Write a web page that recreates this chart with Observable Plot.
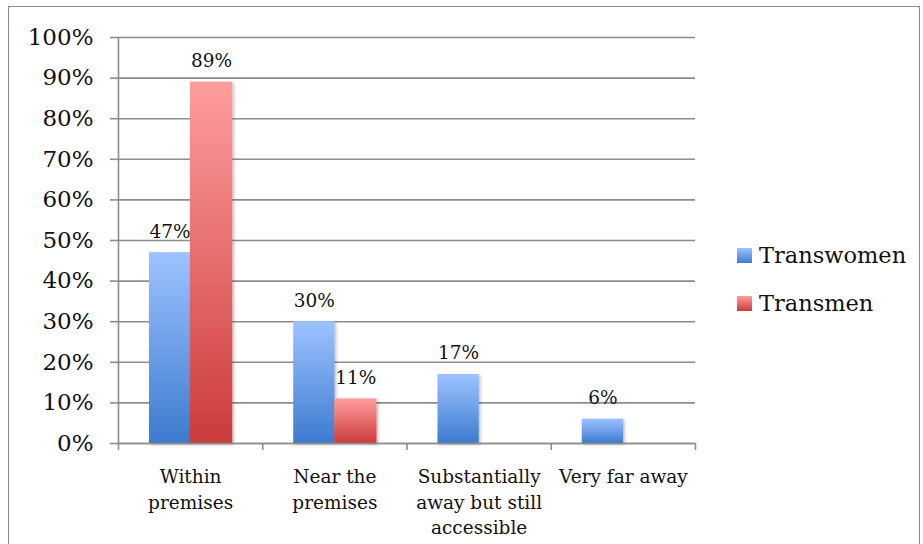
<!DOCTYPE html>
<html>
<head>
<meta charset="utf-8">
<script src="https://cdn.jsdelivr.net/npm/d3@7"></script>
<script src="https://cdn.jsdelivr.net/npm/@observablehq/plot@0.6"></script>
<style>
  html, body { margin: 0; padding: 0; background: #fff; }
  #wrap { position: relative; width: 923px; height: 544px; overflow: hidden; background: #fff; }
  #frame { position: absolute; left: 8px; top: 6px; width: 912px; height: 560px;
           border: 1.5px solid #8a8a8a; box-sizing: border-box; pointer-events: none; }
  #chart { position: absolute; left: 0; top: 0; }
  #legend { position: absolute; left: 737px; top: 240px; font-family: "DejaVu Serif", serif;
            font-size: 22.5px; color: #111; }
  .row { display: flex; align-items: center; height: 30px; margin-bottom: 18px; }
  .sw { width: 15px; height: 15px; margin-right: 7px; }
</style>
</head>
<body>
<div id="wrap">
  <div id="chart"></div>
  <div id="frame"></div>
  <div id="legend"></div>
</div>
<script>
// Where the facility is located, share of respondents by group
const categories = ["Within premises", "Near the premises", "Substantially away but still accessible", "Very far away"];
const tickLabels = ["Within\npremises", "Near the\npremises", "Substantially\naway but still\naccessible", "Very far away"];
const transwomen = [0.47, 0.30, 0.17, 0.06];
const transmen = [0.89, 0.11, null, null];
const seriesNames = ["Transwomen", "Transmen"];
const yTicks = [0, 0.1, 0.2, 0.3, 0.4, 0.5, 0.6, 0.7, 0.8, 0.9, 1.0];

const womenRows = categories.map((c, i) => ({i, category: c, value: transwomen[i]}));
const menRows = categories.map((c, i) => ({i, category: c, value: transmen[i]})).filter(d => d.value != null);

const fmt = d3.format(".0%");
const grid = "#8c8c8c";
const font = "DejaVu Serif";

const chart = Plot.plot({
  width: 923,
  height: 544,
  marginLeft: 118,
  marginRight: 228,
  marginTop: 37,
  marginBottom: 101,
  style: {fontFamily: font, background: "transparent", color: "#111"},
  x: {type: "linear", domain: [0, categories.length]},
  y: {domain: [0, 1]},
  marks: [
    Plot.ruleY(yTicks, {stroke: grid, strokeWidth: 1.6}),
    Plot.axisY({ticks: yTicks, tickFormat: fmt, tickSize: 8, tickPadding: 17, stroke: grid, strokeWidth: 1.6,
                fontSize: 23, label: null, strokeOpacity: 1}),
    Plot.rectY(womenRows, {x1: d => d.i, x2: d => d.i + 1, y: "value", insetLeft: 31, insetRight: 72,
                           fill: "url(#gradBlue)", filter: null}),
    Plot.rectY(menRows, {x1: d => d.i, x2: d => d.i + 1, y: "value", insetLeft: 72, insetRight: 30,
                         fill: "url(#gradRed)"}),
    Plot.ruleX([0], {stroke: grid, strokeWidth: 1.6}),
    Plot.ruleY([0], {stroke: grid, strokeWidth: 1.6}),
    Plot.axisX({ticks: d3.range(categories.length + 1), tickFormat: () => "", tickSize: 7,
                stroke: grid, strokeWidth: 1.6, strokeOpacity: 1, label: null}),
    Plot.axisX({ticks: categories.map((c, i) => i + 0.5), tickFormat: v => tickLabels[Math.round(v - 0.5)],
                tickSize: 0, tickPadding: 22, fontSize: 18.5, lineHeight: 1.36, label: null}),
    Plot.text(womenRows, {x: d => d.i + 0.5, y: "value", text: d => fmt(d.value), dx: -20.5, dy: -21,
                          fontSize: 18.5, fill: "#111"}),
    Plot.text(menRows, {x: d => d.i + 0.5, y: "value", text: d => fmt(d.value), dx: 21, dy: -21,
                        fontSize: 18.5, fill: "#111"})
  ]
});

// gradients and a soft shadow for the bars
chart.insertAdjacentHTML("afterbegin", `
<defs>
  <linearGradient id="gradBlue" x1="0" y1="0" x2="0" y2="1">
    <stop offset="0" stop-color="#9DC3FF"/>
    <stop offset="1" stop-color="#3D7BCF"/>
  </linearGradient>
  <linearGradient id="gradRed" x1="0" y1="0" x2="0" y2="1">
    <stop offset="0" stop-color="#FF9D9D"/>
    <stop offset="1" stop-color="#CC3B3B"/>
  </linearGradient>
  <filter id="barShadow" x="-20%" y="-5%" width="150%" height="115%">
    <feDropShadow dx="1.5" dy="1.5" stdDeviation="1.5" flood-color="#000" flood-opacity="0.28"/>
  </filter>
</defs>`);
chart.querySelectorAll("rect").forEach(r => {
  const f = r.getAttribute("fill") || (r.parentNode && r.parentNode.getAttribute("fill"));
  if (f && f.startsWith("url(#grad")) r.setAttribute("filter", "url(#barShadow)");
});
document.getElementById("chart").appendChild(chart);

// legend
const swatchFill = ["linear-gradient(#9DC3FF, #3D7BCF)", "linear-gradient(#FF9D9D, #CC3B3B)"];
const legend = document.getElementById("legend");
seriesNames.forEach((name, k) => {
  const row = document.createElement("div");
  row.className = "row";
  const sw = document.createElement("div");
  sw.className = "sw";
  sw.style.background = swatchFill[k];
  const t = document.createElement("span");
  t.textContent = name;
  row.appendChild(sw);
  row.appendChild(t);
  legend.appendChild(row);
});
</script>
</body>
</html>
